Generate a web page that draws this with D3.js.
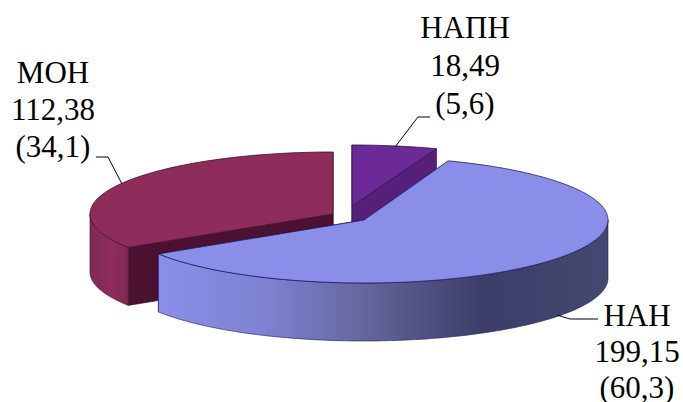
<!DOCTYPE html>
<html>
<head>
<meta charset="utf-8">
<script src="https://cdn.jsdelivr.net/npm/d3@7"></script>
<style>
    html, body { margin: 0; padding: 0; background: #fff; }
    svg { display: block; }
    text { font-family: "Liberation Serif", serif; font-size: 31px; fill: #000; }
</style>
</head>
<body>
<div id="chart"></div>
<script>
const names = ['НАПН', 'НАН', 'МОН'];
const values = [18.49, 199.15, 112.38];
const percents = [5.6, 60.3, 34.1];

const width = 683;
const height = 402;
const depth = 58;

// one layout per slice, same order as the data (exploded pie)
const layouts = [
    {cx: 352, cy: 206, rx: 245, ry: 61, top: '#6b2a96', inner: '#551f7a', edge: '#2c0f4c', lx: 465, ly: 38, lh: 38, leader: [[395, 147], [418, 117], [430, 117]]},
    {cx: 364, cy: 220, rx: 244, ry: 63, top: '#8a8ee8', wall: 'url(#wallGrad)', inner: '#4a4f90', edge: '#1a1a5c', lx: 637, ly: 326, lh: 36, leader: [[557, 315], [570, 319], [598, 319]]},
    {cx: 333, cy: 214, rx: 243, ry: 62, top: '#8e2d5c', wall: 'url(#redGrad)', inner: '#4a1230', edge: '#3e0e28', lx: 53, ly: 83, lh: 37, leader: [[122, 184], [108, 157], [96, 157]]}
];

const svg = d3.select('#chart').append('svg')
    .attr('width', width)
    .attr('height', height);

const defs = svg.append('defs');
const wallGrad = defs.append('linearGradient')
    .attr('id', 'wallGrad')
    .attr('gradientUnits', 'userSpaceOnUse')
    .attr('x1', 160).attr('x2', 608).attr('y1', 0).attr('y2', 0);
wallGrad.selectAll('stop')
    .data([[0, '#8a8ee8'], [0.22, '#7f83d4'], [0.45, '#65679f'], [0.72, '#3c3d69'], [1, '#454870']])
    .enter().append('stop')
    .attr('offset', d => d[0])
    .attr('stop-color', d => d[1]);
const redGrad = defs.append('linearGradient')
    .attr('id', 'redGrad')
    .attr('gradientUnits', 'userSpaceOnUse')
    .attr('x1', 90).attr('x2', 135).attr('y1', 0).attr('y2', 0);
redGrad.selectAll('stop')
    .data([[0, '#7d2a52'], [0.5, '#8e2d5c'], [1, '#7a2450']])
    .enter().append('stop')
    .attr('offset', d => d[0])
    .attr('stop-color', d => d[1]);

const arcs = d3.pie().sort(null)(values);

const project = (l, a, z) => [l.cx + l.rx * Math.sin(a), l.cy - l.ry * Math.cos(a) + z];
const line = d3.line();

const rimPoints = (l, a0, a1, z) => {
    const n = Math.max(2, Math.ceil((a1 - a0) * 60));
    return d3.range(n + 1).map(i => project(l, a0 + (a1 - a0) * i / n, z));
};

const drawSlice = (arc, i) => {
    const l = layouts[i];
    const g = svg.append('g');

    // cut faces, from centre down to the rim
    [arc.startAngle, arc.endAngle].forEach(a => {
        if (Math.cos(a) > 0 && i === 1) return;
        g.append('path')
            .attr('d', line([[l.cx, l.cy], project(l, a, 0), project(l, a, depth), [l.cx, l.cy + depth]]) + 'Z')
            .attr('fill', l.inner)
            .attr('stroke', l.edge)
            .attr('stroke-width', 0.6);
    });

    // outer wall, only the front half can be seen
    const a0 = Math.max(arc.startAngle, Math.PI / 2);
    const a1 = Math.min(arc.endAngle, Math.PI * 1.5);
    if (a1 > a0) {
        g.append('path')
            .attr('d', line(rimPoints(l, a0, a1, 0).concat(rimPoints(l, a0, a1, depth).reverse())) + 'Z')
            .attr('fill', l.wall)
            .attr('stroke', l.edge)
            .attr('stroke-width', 0.6);
    }

    // top face
    g.append('path')
        .attr('d', line([[l.cx, l.cy]].concat(rimPoints(l, arc.startAngle, arc.endAngle, 0))) + 'Z')
        .attr('fill', l.top)
        .attr('stroke', l.edge)
        .attr('stroke-width', 0.8);
};

// back slices first, the big one sits in front
[2, 0, 1].forEach(i => drawSlice(arcs[i], i));

const comma = v => String(v).replace('.', ',');

layouts.forEach((l, i) => {
    svg.append('path')
        .attr('d', line(l.leader))
        .attr('fill', 'none')
        .attr('stroke', '#000')
        .attr('stroke-width', 1);

    const text = svg.append('text')
        .attr('text-anchor', 'middle');
    [names[i], comma(values[i]), '(' + comma(percents[i]) + ')'].forEach((t, k) => {
        text.append('tspan')
            .attr('x', l.lx)
            .attr('y', l.ly + k * l.lh)
            .text(t);
    });
});
</script>
</body>
</html>
